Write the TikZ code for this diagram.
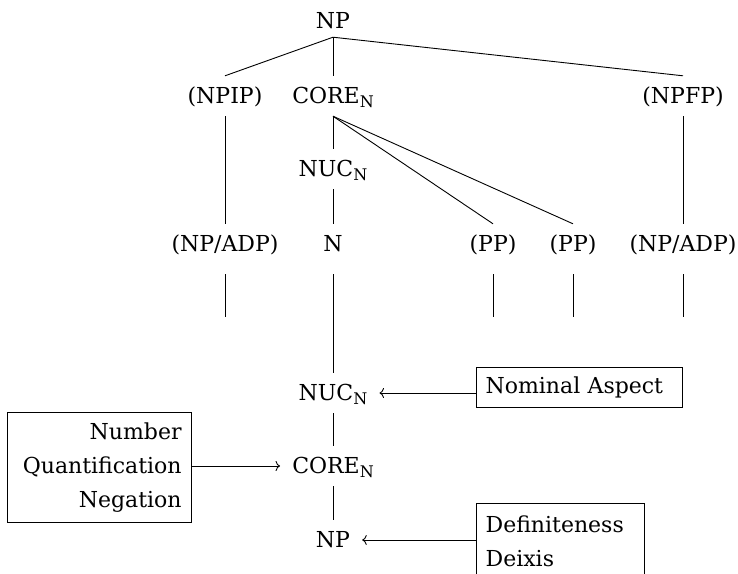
\documentclass[tikz,border=0pt]{standalone}
\usepackage{fontspec}
\setmainfont{DejaVu Serif}
\usetikzlibrary{arrows.meta}
% lowered small capital N used as the category subscript
\newcommand\subN{\raisebox{-4.5pt}{\fontsize{16}{16}\selectfont N}}
\begin{document}
\begin{tikzpicture}[x=1pt,y=-1pt,
  every node/.style={font=\fontsize{22}{34}\selectfont},
  cat/.style={anchor=base, text height=17pt, text depth=3pt, inner xsep=12pt, inner ysep=10pt},
  edge/.style={line width=0.9pt},
  hang/.style={edge, shorten <=10pt},
  feat/.style={draw, line width=1.2pt, inner xsep=9pt, inner ysep=0pt},
  feed/.style={line width=0.9pt, -{Computer Modern Rightarrow[length=4.5pt,width=10pt]}}
]
\fill[white] (0,0) rectangle (738,573);
\useasboundingbox (0,0) rectangle (738,573);

% upper tree: layered structure of the NP
\node[cat, inner ysep=6pt] (np)   at (333,28)  {NP};
\node[cat] (npip)   at (225,103) {(NPIP)};
\node[cat] (core)   at (333,103) {CORE\subN};
\node[cat] (npfp)   at (683,103) {(NPFP)};
\node[cat] (nucu)   at (333,176) {NUC\subN};
\node[cat] (npadpl) at (225,251) {(NP/ADP)};
\node[cat] (n)      at (333,251) {N};
\node[cat] (ppa)    at (493,251) {(PP)};
\node[cat] (ppb)    at (573,251) {(PP)};
\node[cat] (npadpr) at (683,251) {(NP/ADP)};

% lower projection: operators
\node[cat] (nucl)  at (333,400) {NUC\subN};
\node[cat] (corel) at (333,473) {CORE\subN};
\node[cat] (npl)   at (333,547) {NP};

% operator boxes
\node[feat, anchor=north west, text width=188pt, minimum height=40pt, align=left] (aspect) at (476,367) {Nominal Aspect};
\node[feat, anchor=north west, text width=164pt, minimum height=110pt, align=right, inner xsep=10pt] (quant) at (7,412) {Number\\Quantification\\Negation};
\node[feat, anchor=north west, text width=150pt, minimum height=75pt, align=left] (defin) at (476,503) {Definiteness\\Deixis};

% free ends of the hanging branches
\coordinate (d1) at (225,317);
\coordinate (d2) at (493,317);
\coordinate (d3) at (573,317);
\coordinate (d4) at (683,317);

% tree branches
\draw[edge] (np.south) -- (npip.north);
\draw[edge] (np.south) -- (core.north);
\draw[edge] (np.south) -- (npfp.north);
\draw[edge] (npip.south) -- (npadpl.north);
\draw[edge] (core.south) -- (nucu.north);
\draw[edge] (core.south) -- (ppa.north);
\draw[edge] (core.south) -- (ppb.north);
\draw[edge] (npfp.south) -- (npadpr.north);
\draw[edge] (nucu.south) -- (n.north);

\draw[hang] (npadpl.south) -- (d1);
\draw[hang] (ppa.south) -- (d2);
\draw[hang] (ppb.south) -- (d3);
\draw[hang] (npadpr.south) -- (d4);
\draw[hang] (n.south) -- (nucl.north);

\draw[edge] (nucl.south) -- (corel.north);
\draw[edge] (corel.south) -- (npl.north);

% operator arrows
\draw[feed] (aspect.west |- nucl.east) -- (nucl.east);
\draw[feed] (quant.east |- corel.west) -- (corel.west);
\draw[feed] (defin.west |- npl.east) -- (npl.east);
\end{tikzpicture}
\end{document}
